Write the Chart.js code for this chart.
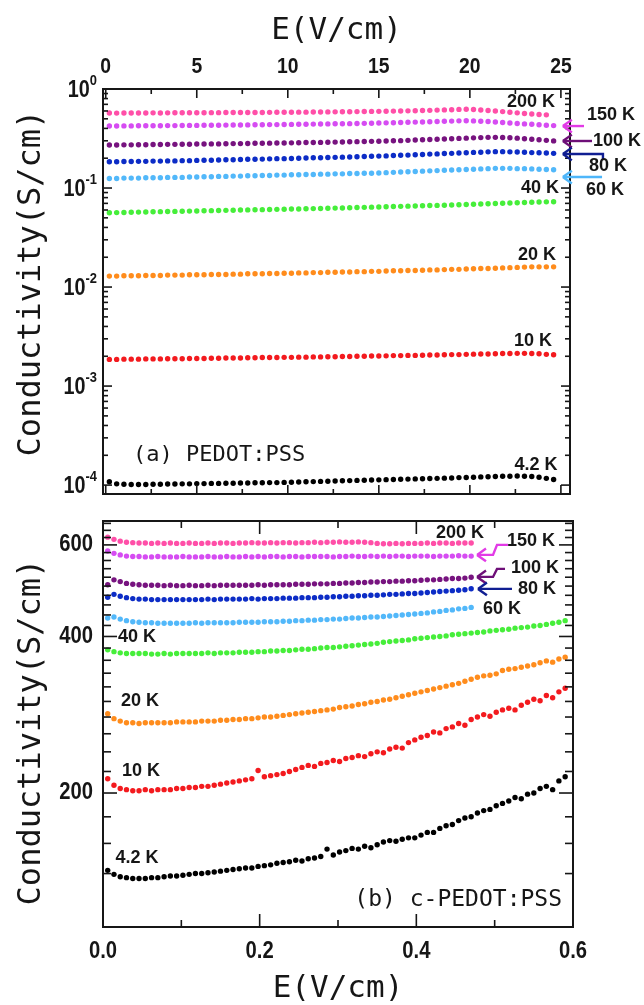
<!DOCTYPE html>
<html>
<head>
<meta charset="utf-8">
<script src="https://cdn.jsdelivr.net/npm/chart.js@4.4.1/dist/chart.umd.min.js"></script>
<style>
body{margin:0;background:#fff}
canvas{display:block}
</style>
</head>
<body>
<canvas id="topPlot" width="644" height="500"></canvas>
<canvas id="bottomPlot" width="644" height="505"></canvas>
<script>
// ---------- panel (a) PEDOT:PSS, field 0-25 V/cm, log conductivity ----------
var topField = [0.2,0.6,1.0,1.4,1.8,2.2,2.6,3.0,3.4,3.8,
  4.2,4.6,5.0,5.4,5.8,6.2,6.6,7.0,7.4,7.8,
  8.2,8.6,9.0,9.4,9.8,10.2,10.6,11.0,11.4,11.8,
  12.2,12.6,13.0,13.4,13.8,14.2,14.6,15.0,15.4,15.8,
  16.2,16.6,17.0,17.4,17.8,18.2,18.6,19.0,19.4,19.8,
  20.2,20.6,21.0,21.4,21.8,22.2,22.6,23.0,23.4,23.8,
  24.2,24.6];

var topK200 = [0.572,0.571,0.572,0.573,0.572,0.573,0.574,0.573,0.574,0.575,
  0.575,0.576,0.575,0.576,0.577,0.577,0.578,0.578,0.579,0.579,
  0.580,0.580,0.581,0.582,0.582,0.583,0.584,0.584,0.585,0.586,
  0.587,0.588,0.589,0.590,0.591,0.592,0.594,0.595,0.597,0.598,
  0.600,0.602,0.604,0.606,0.609,0.612,0.615,0.618,0.622,0.624,
  0.620,0.614,0.607,0.599,0.591,0.582,0.574,0.566,0.559,0.553,
  0.548];
var topK150 = [0.423,0.423,0.424,0.424,0.425,0.425,0.426,0.426,0.427,0.427,
  0.428,0.429,0.429,0.430,0.431,0.431,0.432,0.433,0.433,0.434,
  0.435,0.436,0.437,0.437,0.438,0.439,0.440,0.441,0.442,0.443,
  0.444,0.445,0.446,0.447,0.449,0.450,0.451,0.453,0.455,0.457,
  0.459,0.461,0.463,0.465,0.467,0.470,0.472,0.474,0.477,0.478,
  0.476,0.473,0.469,0.464,0.459,0.454,0.449,0.444,0.440,0.436,
  0.431,0.427];
var topK100 = [0.272,0.272,0.273,0.273,0.274,0.274,0.275,0.275,0.276,0.276,
  0.277,0.277,0.278,0.278,0.279,0.279,0.280,0.281,0.281,0.282,
  0.283,0.283,0.284,0.285,0.285,0.286,0.287,0.288,0.288,0.289,
  0.290,0.291,0.292,0.293,0.294,0.295,0.296,0.297,0.298,0.300,
  0.301,0.303,0.305,0.307,0.309,0.311,0.313,0.315,0.317,0.319,
  0.321,0.323,0.325,0.325,0.324,0.322,0.319,0.315,0.311,0.307,
  0.303,0.299];
var topK80 = [0.184,0.184,0.185,0.185,0.186,0.186,0.187,0.187,0.188,0.188,
  0.189,0.189,0.190,0.191,0.191,0.192,0.193,0.193,0.194,0.195,
  0.195,0.196,0.197,0.198,0.198,0.199,0.200,0.201,0.202,0.202,
  0.203,0.204,0.205,0.206,0.207,0.208,0.209,0.210,0.211,0.213,
  0.214,0.215,0.217,0.218,0.220,0.221,0.223,0.224,0.226,0.227,
  0.229,0.230,0.232,0.233,0.233,0.232,0.231,0.230,0.228,0.227,
  0.226,0.224];
var topK60 = [0.125,0.125,0.126,0.126,0.126,0.127,0.127,0.127,0.128,0.128,
  0.128,0.129,0.129,0.130,0.130,0.131,0.131,0.132,0.132,0.133,
  0.133,0.134,0.134,0.135,0.135,0.136,0.136,0.137,0.137,0.138,
  0.138,0.139,0.139,0.140,0.140,0.141,0.141,0.142,0.143,0.144,
  0.145,0.146,0.147,0.148,0.149,0.150,0.151,0.152,0.153,0.154,
  0.155,0.156,0.157,0.158,0.158,0.158,0.157,0.157,0.156,0.155,
  0.154,0.153];
var topK40 = [0.0563,0.0565,0.0567,0.0569,0.0571,0.0573,0.0575,0.0577,0.0579,0.0581,
  0.0583,0.0585,0.0587,0.0589,0.0591,0.0593,0.0595,0.0597,0.0599,0.0601,
  0.0603,0.0605,0.0607,0.0609,0.0611,0.0613,0.0615,0.0618,0.0620,0.0622,
  0.0624,0.0627,0.0629,0.0632,0.0635,0.0638,0.0641,0.0644,0.0647,0.0650,
  0.0653,0.0656,0.0659,0.0662,0.0665,0.0668,0.0671,0.0675,0.0678,0.0682,
  0.0686,0.0690,0.0694,0.0698,0.0702,0.0706,0.0710,0.0714,0.0718,0.0722,
  0.0725,0.0727];
var topK20 = [0.0129,0.0129,0.0130,0.0130,0.0130,0.0131,0.0131,0.0131,0.0132,0.0132,
  0.0132,0.0133,0.0133,0.0133,0.0134,0.0134,0.0134,0.0135,0.0135,0.0136,
  0.0136,0.0136,0.0137,0.0137,0.0138,0.0138,0.0139,0.0139,0.0140,0.0140,
  0.0141,0.0141,0.0142,0.0142,0.0143,0.0143,0.0144,0.0144,0.0145,0.0146,
  0.0146,0.0147,0.0147,0.0148,0.0149,0.0149,0.0150,0.0151,0.0151,0.0152,
  0.0153,0.0154,0.0154,0.0155,0.0156,0.0157,0.0158,0.0159,0.0160,0.0160,
  0.0160,0.0160];
var topK10 = [0.00186,0.00186,0.00187,0.00187,0.00187,0.00188,0.00188,0.00188,0.00189,0.00189,
  0.00189,0.00190,0.00190,0.00190,0.00191,0.00191,0.00192,0.00192,0.00192,0.00193,
  0.00193,0.00194,0.00194,0.00194,0.00195,0.00195,0.00196,0.00196,0.00197,0.00197,
  0.00198,0.00198,0.00199,0.00199,0.00200,0.00200,0.00201,0.00201,0.00202,0.00203,
  0.00203,0.00204,0.00204,0.00205,0.00206,0.00206,0.00207,0.00208,0.00208,0.00209,
  0.00210,0.00211,0.00211,0.00212,0.00213,0.00213,0.00214,0.00214,0.00213,0.00212,
  0.00209,0.00207];
var topK4 = [1.08e-4,1.03e-4,1.02e-4,1.015e-4,1.015e-4,1.015e-4,1.02e-4,1.02e-4,1.025e-4,1.025e-4,
  1.03e-4,1.03e-4,1.035e-4,1.035e-4,1.04e-4,1.04e-4,1.045e-4,1.045e-4,1.05e-4,1.05e-4,
  1.055e-4,1.055e-4,1.06e-4,1.06e-4,1.065e-4,1.07e-4,1.075e-4,1.08e-4,1.085e-4,1.09e-4,
  1.095e-4,1.10e-4,1.105e-4,1.11e-4,1.115e-4,1.12e-4,1.125e-4,1.13e-4,1.135e-4,1.14e-4,
  1.145e-4,1.15e-4,1.155e-4,1.16e-4,1.165e-4,1.17e-4,1.175e-4,1.18e-4,1.19e-4,1.195e-4,
  1.20e-4,1.21e-4,1.215e-4,1.22e-4,1.23e-4,1.23e-4,1.235e-4,1.23e-4,1.22e-4,1.20e-4,
  1.17e-4,1.14e-4];

// ---------- panel (b) c-PEDOT:PSS, field 0-0.6 V/cm ----------
var botField = [0.006,0.014,0.022,0.030,0.038,0.046,0.054,0.062,0.070,0.078,
  0.086,0.094,0.102,0.110,0.118,0.126,0.134,0.142,0.150,0.158,
  0.166,0.174,0.182,0.190,0.198,0.206,0.214,0.222,0.230,0.238,
  0.246,0.254,0.262,0.270,0.278,0.286,0.294,0.302,0.310,0.318,
  0.326,0.334,0.342,0.350,0.358,0.366,0.374,0.382,0.390,0.398,
  0.406,0.414,0.422,0.430,0.438,0.446,0.454,0.462,0.470,0.478,
  0.486,0.494,0.502,0.510,0.518,0.526,0.534,0.542,0.550,0.558,
  0.566,0.574,0.582,0.590];

var botK200 = [621,615,610,607,606,605,605,604,605,604,
  605,604,604,605,604,604,605,604,605,605,
  604,605,605,606,605,605,606,605,606,606,
  605,606,606,607,606,607,607,608,607,607,
  608,607,606,604,603,603,604,603,604,604,
  604,605,604,605,605,604,605,605,605];
var botK150 = [584,578,574,571,570,570,569,569,570,569,
  569,569,570,569,569,569,570,569,569,570,
  569,569,570,569,570,569,570,570,569,570,
  570,569,570,570,570,570,569,570,570,571,
  570,570,571,570,571,570,571,571,570,571,
  571,571,570,571,571,571,572,571,571];
var botK100 = [503,514,510,506,504,503,502,502,502,501,
  502,501,501,502,501,501,502,501,502,502,
  502,502,502,502,503,502,503,503,503,503,
  504,504,504,505,505,505,506,506,507,507,
  508,508,509,509,510,510,511,511,512,512,
  513,514,514,515,516,517,517,518,520];
var botK80 = [476,482,478,475,473,472,472,471,471,471,
  471,471,471,471,471,471,472,471,472,472,
  472,472,472,473,472,473,473,473,474,474,
  474,475,475,475,476,476,477,477,478,478,
  479,479,480,480,481,482,482,483,484,484,
  485,486,487,488,489,490,491,492,494];
var botK60 = [434,436,432,429,427,426,425,425,424,424,
  424,424,424,424,425,424,425,425,425,425,
  425,426,426,426,426,427,427,427,428,428,
  429,429,430,430,431,431,432,432,433,434,
  434,435,436,436,437,438,439,440,441,442,
  443,444,446,447,449,450,452,453,455];
var botK40 = [377,374,372,371,371,371,371,370,370,371,
  370,371,371,371,371,371,372,371,372,372,
  372,373,373,373,374,374,375,375,376,376,
  377,378,378,379,380,381,381,382,383,384,
  385,386,387,388,390,391,392,393,394,396,
  397,398,399,400,401,403,404,405,406,407,
  408,410,411,412,413,415,416,417,419,420,
  422,424,426,429];
var botK20 = [284,278,275,273,273,272,273,273,273,273,
  273,274,274,274,274,275,275,275,276,276,
  277,277,278,278,279,280,280,281,282,283,
  284,285,286,287,288,289,290,292,293,294,
  296,297,299,300,302,303,305,307,309,311,
  313,315,317,319,321,323,325,328,331,334,
  336,337,339,344,346,347,349,351,353,356,
  359,357,362,365];
var botK10 = [213,207,204,203,202,202,203,202,203,203,
  203,204,204,205,205,206,206,207,208,209,
  210,211,212,213,221,215,216,217,218,220,
  222,224,226,225,228,229,231,230,233,234,
  236,235,238,240,239,243,245,244,250,253,
  256,258,262,261,266,268,272,270,277,280,
  283,281,286,289,291,289,295,299,303,301,
  308,305,313,318];
var botK4 = [142,139.5,138,137.5,137,137,137,137.5,137.5,138,
  138.5,138.5,139,139.5,140,140,140.5,141,141.5,142,
  142.5,143,143.5,143.5,144.5,145,145.5,146.5,147,147.5,
  148.5,148,149.5,150,151,156,152,154,155,156.5,
  156,158,157,159,161,162,161.5,163,164,164,
  166,168,168,171,173,174,177,179,180,183,
  185,186,189,191,193,196,195,199,200,204,
  206,203,211,215];

var tempColors = ['#ff4fa8','#d64cf2','#77137f','#0c2cc6','#52b8fa','#46ee3a','#ff8c1c','#f31a1e','#000000'];

// axis ticks
var topXTicks = [0,2.5,5,7.5,10,12.5,15,17.5,20,22.5,25];
var topXLabels = [0,5,10,15,20,25];
var topYDecades = [-4,-3,-2,-1,0];
var botXTicks = [0,0.1,0.2,0.3,0.4,0.5,0.6];
var botXLabels = ['0.0','0.2','0.4','0.6'];
var botYTicks = [140,160,180,200,220,240,260,280,300,320,340,360,380,400,420,440,460,480,500,520,540,560,580,600,620,640,660];
var botYLabels = [200,400,600];

// labels and arrows, in data units
var topNotes = [
  {t:'200 K', x:23.36, y:0.739},
  {t:'150 K', x:27.75, y:0.546},
  {t:'100 K', x:28.08, y:0.2985},
  {t:'80 K', x:27.59, y:0.1668},
  {t:'60 K', x:27.42, y:0.0954},
  {t:'40 K', x:23.85, y:0.0995},
  {t:'20 K', x:23.69, y:0.02105},
  {t:'10 K', x:23.47, y:0.00285},
  {t:'4.2 K', x:23.63, y:0.000159}
];
var topArrows = [
  {c:'#e23ae6', path:[[25.11,0.4226],[26.27,0.4226]]},
  {c:'#6e0f78', path:[[25.11,0.2985],[26.71,0.2985]]},
  {c:'#101e92', path:[[25.11,0.2206],[27.31,0.2206],[27.31,0.1964]]},
  {c:'#4eb6fa', path:[[25.11,0.1291],[27.26,0.1291]]}
];
var botNotes = [
  {t:'200 K', x:0.4558, y:632.8},
  {t:'150 K', x:0.5464, y:610.7},
  {t:'100 K', x:0.5515, y:541.9},
  {t:'80 K', x:0.5541, y:493.8},
  {t:'60 K', x:0.5094, y:451.9},
  {t:'40 K', x:0.0434, y:399.2},
  {t:'20 K', x:0.0472, y:300.7},
  {t:'10 K', x:0.0485, y:220.8},
  {t:'4.2 K', x:0.0434, y:150.1}
];
var botArrows = [
  {c:'#e23ae6', path:[[0.4775,574],[0.4979,574],[0.503,600],[0.517,600]]},
  {c:'#6e0f78', path:[[0.4775,520.7],[0.4979,520.7],[0.503,539.5],[0.5132,539.5]]},
  {c:'#101e92', path:[[0.4787,493.8],[0.5221,493.8]]}
];

var INK = '#161616';
var NUMFONT = '"Liberation Sans", Arial, sans-serif';
var MONO = '"DejaVu Sans Mono", monospace';

function seg(ctx, x1, y1, x2, y2){
  ctx.beginPath(); ctx.moveTo(x1, y1); ctx.lineTo(x2, y2); ctx.stroke();
}

function txt(ctx, s, x, y, font, align, sx){
  ctx.save();
  ctx.font = font;
  ctx.fillStyle = INK;
  ctx.textBaseline = 'middle';
  ctx.translate(x, y);
  ctx.scale(sx, 1);
  ctx.textAlign = align;
  ctx.fillText(s, 0, 0);
  ctx.restore();
}

function powLabel(ctx, e, rightX, y){
  var sx = 0.86;
  ctx.save();
  ctx.font = 'bold 23px ' + NUMFONT;
  var wb = ctx.measureText('10').width * sx;
  ctx.font = 'bold 15px ' + NUMFONT;
  var we = ctx.measureText(String(e)).width * sx;
  ctx.restore();
  var x0 = rightX - wb - we;
  txt(ctx, '10', x0, y + 2, 'bold 23px ' + NUMFONT, 'left', sx);
  txt(ctx, String(e), x0 + wb, y - 8, 'bold 15px ' + NUMFONT, 'left', sx);
}

function drawArrow(ctx, chart, a){
  var xs = chart.scales.x, ys = chart.scales.y;
  var p = a.path.map(function(q){ return [xs.getPixelForValue(q[0]), ys.getPixelForValue(q[1])]; });
  ctx.save();
  ctx.strokeStyle = a.c;
  ctx.lineWidth = 2.4;
  ctx.beginPath();
  ctx.moveTo(p[0][0], p[0][1]);
  for (var i = 1; i < p.length; i++) ctx.lineTo(p[i][0], p[i][1]);
  ctx.stroke();
  var ang = Math.atan2(p[0][1] - p[1][1], p[0][0] - p[1][0]);
  [-1, 1].forEach(function(s){
    var t = ang + s * 0.62;
    seg(ctx, p[0][0], p[0][1], p[0][0] - 11 * Math.cos(t), p[0][1] - 11 * Math.sin(t));
  });
  ctx.restore();
}

function yTitle(ctx, x, y){
  ctx.save();
  ctx.translate(x, y);
  ctx.rotate(-Math.PI / 2);
  ctx.font = '32px ' + MONO;
  ctx.fillStyle = INK;
  ctx.textAlign = 'center';
  ctx.textBaseline = 'middle';
  ctx.fillText('Conductivity(S/cm)', 0, 0);
  ctx.restore();
}

function datasetsFor(xs, series){
  return series.map(function(ys, i){
    return {
      data: ys.map(function(v, j){ return {x: xs[j], y: v}; }),
      pointBackgroundColor: tempColors[i],
      pointBorderWidth: 0,
      pointRadius: 2.7,
      pointHoverRadius: 2.7
    };
  });
}

var topDecor = {
  id: 'topDecor',
  afterDraw: function(chart){
    var ctx = chart.ctx, a = chart.chartArea, sx = chart.scales.x, sy = chart.scales.y;
    ctx.save();
    ctx.strokeStyle = INK;
    ctx.lineWidth = 1.6;
    topXTicks.forEach(function(v){
      var p = sx.getPixelForValue(v), L = topXLabels.indexOf(v) >= 0 ? 9 : 5;
      seg(ctx, p, a.top, p, a.top + L);
      seg(ctx, p, a.bottom, p, a.bottom - L);
    });
    topYDecades.forEach(function(d){
      for (var m = 1; m <= 9; m++){
        var v = m * Math.pow(10, d);
        if (v < sy.min || v > sy.max) continue;
        var p = sy.getPixelForValue(v), L = m === 1 ? 9 : 5;
        seg(ctx, a.left, p, a.left + L, p);
        seg(ctx, a.right, p, a.right - L, p);
      }
    });
    ctx.lineWidth = 2;
    ctx.strokeRect(a.left, a.top, a.right - a.left, a.bottom - a.top);

    topXLabels.forEach(function(v){
      txt(ctx, String(v), sx.getPixelForValue(v), 67, 'bold 22px ' + NUMFONT, 'center', 0.88);
    });
    topYDecades.forEach(function(d){
      powLabel(ctx, d, a.left - 6, sy.getPixelForValue(Math.pow(10, d)));
    });
    txt(ctx, 'E(V/cm)', (a.left + a.right) / 2, 31, '31px ' + MONO, 'center', 1);
    yTitle(ctx, 32, 283);

    topArrows.forEach(function(ar){ drawArrow(ctx, chart, ar); });
    topNotes.forEach(function(n){
      txt(ctx, n.t, sx.getPixelForValue(n.x), sy.getPixelForValue(n.y), 'bold 19px ' + NUMFONT, 'center', 0.95);
    });
    txt(ctx, '(a) PEDOT:PSS', sx.getPixelForValue(1.5), sy.getPixelForValue(0.000201), '22px ' + MONO, 'left', 1);
    ctx.restore();
  }
};

var botDecor = {
  id: 'botDecor',
  afterDraw: function(chart){
    var ctx = chart.ctx, a = chart.chartArea, sx = chart.scales.x, sy = chart.scales.y;
    ctx.save();
    ctx.strokeStyle = INK;
    ctx.lineWidth = 1.6;
    botXTicks.forEach(function(v, i){
      var p = sx.getPixelForValue(v), L = i % 2 === 0 ? 13 : 7;
      seg(ctx, p, a.top, p, a.top + L);
      seg(ctx, p, a.bottom, p, a.bottom - L);
    });
    botYTicks.forEach(function(v){
      var p = sy.getPixelForValue(v), L = botYLabels.indexOf(v) >= 0 ? 14 : 8;
      seg(ctx, a.left, p, a.left + L, p);
      seg(ctx, a.right, p, a.right - L, p);
    });
    ctx.lineWidth = 2;
    ctx.strokeRect(a.left, a.top, a.right - a.left, a.bottom - a.top);

    botXLabels.forEach(function(s){
      txt(ctx, s, sx.getPixelForValue(parseFloat(s)), 452, 'bold 23px ' + NUMFONT, 'center', 0.88);
    });
    botYLabels.forEach(function(v){
      txt(ctx, String(v), a.left - 10, sy.getPixelForValue(v), 'bold 23px ' + NUMFONT, 'right', 0.88);
    });
    txt(ctx, 'E(V/cm)', (a.left + a.right) / 2, 489, '31px ' + MONO, 'center', 1);
    yTitle(ctx, 32, 232);

    botArrows.forEach(function(ar){ drawArrow(ctx, chart, ar); });
    botNotes.forEach(function(n){
      txt(ctx, n.t, sx.getPixelForValue(n.x), sy.getPixelForValue(n.y), 'bold 19px ' + NUMFONT, 'center', 0.95);
    });
    txt(ctx, '(b) c-PEDOT:PSS', sx.getPixelForValue(0.586), sy.getPixelForValue(124.5), '23px ' + MONO, 'right', 1);
    ctx.restore();
  }
};

var baseOptions = function(pad, xr, yr){
  return {
    responsive: false,
    animation: false,
    devicePixelRatio: 1,
    events: [],
    layout: {padding: pad},
    plugins: {legend: {display: false}, tooltip: {enabled: false}},
    scales: {
      x: {type: 'linear', min: xr[0], max: xr[1], display: false},
      y: {type: 'logarithmic', min: yr[0], max: yr[1], display: false}
    }
  };
};

new Chart(document.getElementById('topPlot'), {
  type: 'scatter',
  data: {datasets: datasetsFor(topField, [topK200, topK150, topK100, topK80, topK60, topK40, topK20, topK10, topK4])},
  options: baseOptions({left: 103, right: 74, top: 89, bottom: 6}, [-0.15, 25.5], [8.13e-5, 1]),
  plugins: [topDecor]
});

new Chart(document.getElementById('bottomPlot'), {
  type: 'scatter',
  data: {datasets: datasetsFor(botField, [botK200, botK150, botK100, botK80, botK60, botK40, botK20, botK10, botK4])},
  options: baseOptions({left: 103, right: 71, top: 21, bottom: 78}, [0, 0.6], [110.5, 667]),
  plugins: [botDecor]
});
</script>
</body>
</html>
